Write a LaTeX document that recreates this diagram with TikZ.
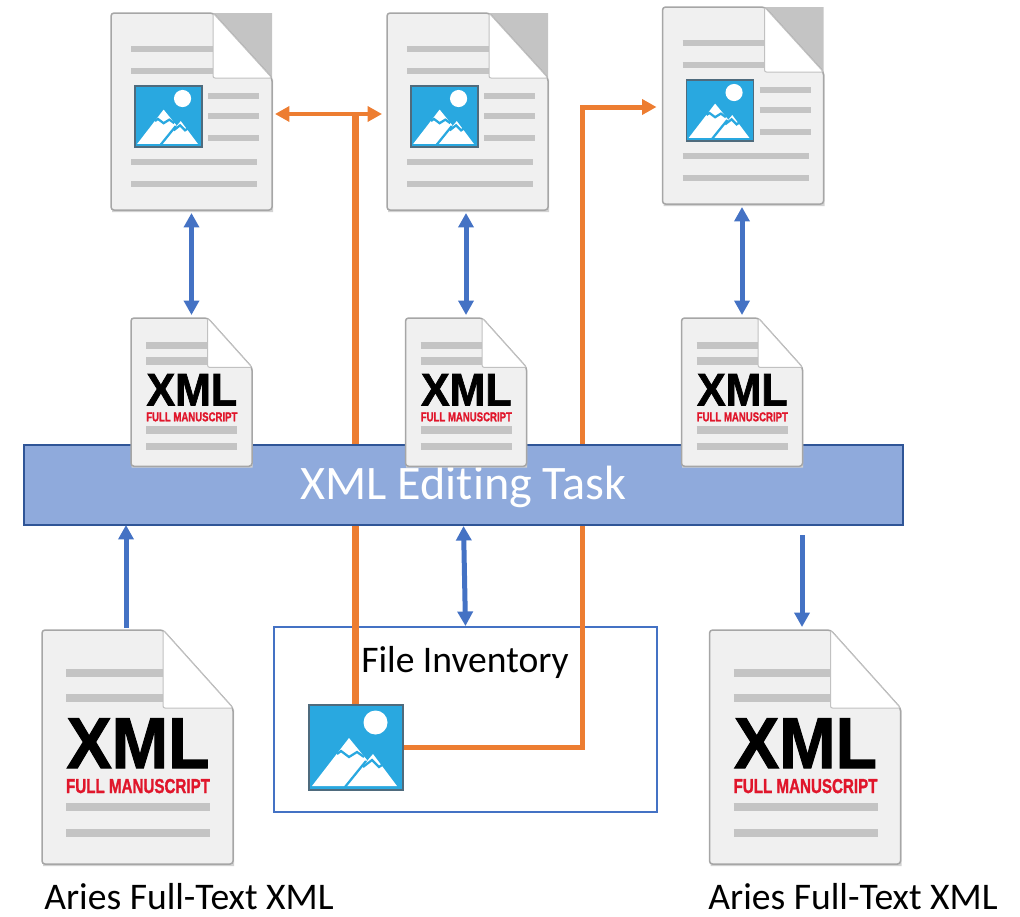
\documentclass[tikz,border=0pt]{standalone}
\usepackage{fontspec}
\setmainfont[Ligatures=NoCommon]{Carlito}
\newfontfamily\xmlfont[FakeBold=1.5]{Liberation Sans Bold}
\usetikzlibrary{arrows.meta}
\definecolor{pagefill}{HTML}{F0F0F0}
\definecolor{pageedge}{HTML}{A6A6A6}
\definecolor{textline}{HTML}{C4C4C4}
\definecolor{skyblue}{HTML}{29A8E0}
\definecolor{iconedge}{HTML}{4F6B7D}
\definecolor{linkorange}{HTML}{ED7D31}
\definecolor{linkblue}{HTML}{4472C4}
\definecolor{bandfill}{HTML}{8FAADC}
\definecolor{bandedge}{HTML}{2F5597}
\definecolor{redlabel}{HTML}{E0162B}
\def\xmlsmall{0.6335}
\tikzset{
  docbox/.style={minimum width=3.22cm, minimum height=3.94cm, inner sep=0, outer sep=0},
  xmlbox/.style={minimum width=2.42cm, minimum height=2.96cm, inner sep=0, outer sep=0},
  bigbox/.style={minimum width=3.82cm, minimum height=4.68cm, inner sep=0, outer sep=0},
  iconbox/.style={minimum width=1.88cm, minimum height=1.7cm, inner sep=0, outer sep=0},
  orangelink/.style={draw=linkorange, line width=0.1cm},
  bluelink/.style={draw=linkblue, line width=0.1cm, shorten >=0.06cm, shorten <=0.06cm},
  labeltext/.style={font=\fontsize{21.4}{22}\selectfont, anchor=base west, inner sep=0},
  pics/mountains/.style={code={
    \fill [skyblue] (0,0) rectangle (94,85);
    \draw [iconedge, line width=0.03cm] (0,0) rectangle (94,85);
    \fill [white] (66.5,17.5) circle (12);
    \fill [white] (3,81) -- (40,33) -- (58,55) -- (38,81) -- cycle;
    \fill [white] (37,81) -- (64,49) -- (88,81) -- cycle;
    \draw [skyblue, line width=0.045cm] (28,49) -- (32,46) -- (40,52) -- (48,47) -- (55,52);
    \draw [skyblue, line width=0.045cm] (54,62) -- (63,55) -- (70,62) -- (76,58);
    \draw [skyblue, line width=0.045cm] (36,82) -- (57,56);
  }},
  pics/picdoc/.style={code={
    \fill [gray!35] (1,2) -- (103,2) -- (162,67) -- (162,199) -- (1,199) -- cycle;
    \fill [textline] (102,0) -- (161,0) -- (161,65) -- cycle;
    \filldraw [fill=pagefill, draw=pageedge, line width=0.03cm, rounded corners=0.06cm]
      (0,0) -- (102,0) -- (161,65) -- (161,197) -- (0,197) -- cycle;
    \foreach \y in {36,58}
      \draw [textline, line width=0.13cm] (20,\y) -- (102,\y);
    \foreach \y in {83,103,125}
      \draw [textline, line width=0.13cm] (97,\y) -- (148,\y);
    \foreach \y in {149,171}
      \draw [textline, line width=0.13cm] (20,\y) -- (146,\y);
    \filldraw [fill=white, draw=pageedge!70, line width=0.02cm, rounded corners=0.04cm]
      (102,0) -- (102,65) -- (161,65) -- cycle;
    \pic [scale=0.715] at (24,73) {mountains};
  }},
  pics/xmldoc/.style={code={
    \fill [gray!35] (1,2) -- (122,2) -- (192,80) -- (192,236) -- (1,236) -- cycle;
    \filldraw [fill=pagefill, draw=pageedge, line width=0.03cm, rounded corners=0.06cm]
      (0,0) -- (121,0) -- (191,78) -- (191,234) -- (0,234) -- cycle;
    \foreach \y in {43,68}
      \draw [textline, line width=0.15cm] (24,\y) -- (121,\y);
    \foreach \y in {177,203}
      \draw [textline, line width=0.15cm] (24,\y) -- (168,\y);
    \filldraw [fill=white, draw=pageedge!70, line width=0.02cm, rounded corners=0.04cm]
      (121,0) -- (121,78) -- (191,78) -- cycle;
    \node [transform shape, anchor=base, inner sep=0, xscale=0.94, font=\xmlfont\fontsize{41}{41}\selectfont]
      at (96,138) {XML};
    \node [transform shape, anchor=base, inner sep=0, xscale=0.75, text=redlabel,
           font=\xmlfont\fontsize{11.5}{12}\selectfont]
      at (96,163) {FULL MANUSCRIPT};
  }},
}
\begin{document}
\begin{tikzpicture}[x=0.02cm, y=-0.02cm, >={Triangle[length=0.29cm,width=0.3cm]}]
\useasboundingbox (0,0) rectangle (1020,916);

\foreach \name/\cx/\cy in {doca/191.5/111.5, docb/467.5/111.5, docc/743/105.5}{
  \node [docbox] (\name) at (\cx,\cy) {};
  \pic at (\name.north west) {picdoc};
}
\node [iconbox] (icon) at (355.5,747) {};
\node [draw=linkblue, line width=0.05cm, minimum width=7.66cm, minimum height=3.7cm, inner sep=0, outer sep=0]
  (inv) at (465.5,719.5) {};
\node [labeltext, anchor=base] (invlabel) at (465,672) {File Inventory};

\coordinate (tee) at (355.5,114);
\coordinate (bend) at (582,107);
\draw [orangelink, line width=0.135cm] (icon.north) -- (tee);
\draw [orangelink, line width=0.09cm, <->, shorten >=0.1cm, shorten <=0.06cm]
  (doca.east |- tee) -- (docb.west |- tee);
\draw [orangelink, ->, shorten >=0.12cm] (icon.east) -| (bend) -- (docc.west |- bend);
\pic at (309,705) {mountains};

\node [fill=bandfill, draw=bandedge, line width=0.05cm, minimum width=17.58cm, minimum height=1.6cm,
       inner sep=0, outer sep=0, text=white, text depth=0.09cm, font=\fontsize{27.4}{28}\selectfont]
  (task) at (463.5,485) {XML Editing Task};

\foreach \name/\cx in {xmla/191.5, xmlb/466, xmlc/742}{
  \node [xmlbox] (\name) at (\cx,392) {};
  \pic [scale=\xmlsmall] at (\name.north west) {xmldoc};
}
\node [bigbox] (bigxa) at (137.5,747) {};
\node [bigbox] (bigxb) at (805,747) {};
\pic at (bigxa.north west) {xmldoc};
\pic at (bigxb.north west) {xmldoc};

\node [labeltext] (aria) at (44,909) {Aries Full-Text XML};
\node [labeltext] (arib) at (708,909) {Aries Full-Text XML};

\foreach \top/\low in {doca/xmla, docb/xmlb, docc/xmlc}
  \draw [bluelink, <->] (\low.north |- \top.south) -- (\low.north);
\coordinate (upin) at (126,628);
\coordinate (dnout) at (802,535);
\draw [bluelink, ->, shorten <=0pt, shorten >=0pt] (upin) -- (upin |- task.south);
\draw [bluelink, ->, shorten <=0pt] (dnout) -- (dnout |- bigxb.north);
\draw [bluelink, <->, shorten >=0.02cm, shorten <=0.02cm] (task.south) -- (inv.north);
\end{tikzpicture}
\end{document}
